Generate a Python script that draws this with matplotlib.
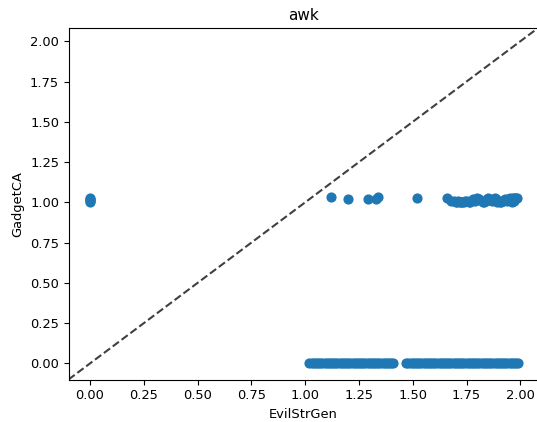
import matplotlib
matplotlib.use("Agg")
import matplotlib.pyplot as plt

# --- data ---
zero_x = [0.0, 0.0, 0.0, 0.0, 0.0]
zero_y = [1.00, 1.01, 1.02, 1.03, 1.015]

sparse_x = [1.12, 1.20, 1.29, 1.33, 1.34, 1.52]
sparse_y = [1.035, 1.02, 1.02, 1.02, 1.035, 1.025]

dense_x = [1.66, 1.68, 1.69, 1.70, 1.705, 1.71, 1.72, 1.725, 1.73, 1.74, 1.745, 1.75,
           1.76, 1.765, 1.77, 1.78, 1.785, 1.79, 1.80, 1.805, 1.81, 1.82, 1.825, 1.83,
           1.84, 1.845, 1.85, 1.86, 1.865, 1.87, 1.88, 1.885, 1.89, 1.90, 1.905, 1.91,
           1.92, 1.925, 1.93, 1.94, 1.945, 1.95, 1.96, 1.965, 1.97, 1.98, 1.96, 1.97,
           1.975, 1.985]
dense_y = [1.03, 1.01, 1.01, 1.00, 1.005, 1.01, 1.00, 1.005, 1.00, 1.00, 1.01, 1.01,
           1.00, 1.005, 1.01, 1.02, 1.015, 1.01, 1.03, 1.02, 1.02, 1.01, 1.005, 1.00,
           1.01, 1.02, 1.03, 1.02, 1.015, 1.01, 1.03, 1.02, 1.00, 1.01, 1.005, 1.00,
           1.01, 1.015, 1.02, 1.01, 1.02, 1.03, 1.02, 1.025, 1.03, 1.03, 1.00, 1.01,
           1.02, 1.03]

bottom_x = [1.02, 1.03, 1.04, 1.05, 1.06, 1.07, 1.08, 1.09, 1.10, 1.11, 1.12, 1.13,
            1.14, 1.15, 1.16, 1.17, 1.18, 1.19, 1.20, 1.21, 1.22, 1.23, 1.24, 1.25,
            1.26, 1.27, 1.28, 1.29, 1.30, 1.31, 1.32, 1.33, 1.34, 1.35, 1.36, 1.37,
            1.38, 1.39, 1.40, 1.41,
            1.47, 1.48, 1.49, 1.50, 1.51, 1.52, 1.53, 1.54, 1.55, 1.56, 1.57, 1.58,
            1.59, 1.60, 1.61, 1.62, 1.63, 1.64, 1.65, 1.66, 1.67, 1.68, 1.69, 1.70,
            1.71, 1.72, 1.73, 1.74, 1.75, 1.76, 1.77, 1.78, 1.79, 1.80, 1.81, 1.82,
            1.83, 1.84, 1.85, 1.86, 1.87, 1.88, 1.89, 1.90, 1.91, 1.92, 1.93, 1.94,
            1.95, 1.96, 1.97, 1.98, 1.99]
bottom_y = [0.0, 0.002, 0.0, 0.001, 0.0, 0.002, 0.0, 0.001, 0.0, 0.002, 0.0, 0.001,
            0.0, 0.002, 0.0, 0.001, 0.0, 0.002, 0.0, 0.001, 0.0, 0.002, 0.0, 0.001,
            0.0, 0.002, 0.0, 0.001, 0.0, 0.002, 0.0, 0.001, 0.0, 0.002, 0.0, 0.001,
            0.0, 0.002, 0.0, 0.001,
            0.0, 0.001, 0.0, 0.002, 0.0, 0.001, 0.0, 0.002, 0.0, 0.001, 0.0, 0.002,
            0.0, 0.001, 0.0, 0.002, 0.0, 0.001, 0.0, 0.002, 0.0, 0.001, 0.0, 0.002,
            0.0, 0.001, 0.0, 0.002, 0.0, 0.001, 0.0, 0.002, 0.0, 0.001, 0.0, 0.002,
            0.0, 0.001, 0.0, 0.002, 0.0, 0.001, 0.0, 0.002, 0.0, 0.001, 0.0, 0.002,
            0.0, 0.001, 0.0, 0.002, 0.0]

xs = zero_x + sparse_x + dense_x + bottom_x
ys = zero_y + sparse_y + dense_y + bottom_y

lims = [-0.1, 2.08]
xticks = [0.0, 0.25, 0.5, 0.75, 1.0, 1.25, 1.5, 1.75, 2.0]
yticks = [0.0, 0.25, 0.5, 0.75, 1.0, 1.25, 1.5, 1.75, 2.0]

fs = 9.4
fig = plt.figure(figsize=(5.37, 4.22), dpi=100)
ax = fig.add_axes([0.1276, 0.1007, 0.8734, 0.832])
ax.scatter(xs, ys, s=40, color="#1f77b4", zorder=2)
ax.plot(lims, lims, "k--", alpha=0.75, zorder=1, lw=1.5)
ax.set_xlim(lims)
ax.set_ylim(lims)
ax.set_xticks(xticks)
ax.set_yticks(yticks)
ax.tick_params(labelsize=fs, length=3.3)
ax.set_xlabel("EvilStrGen", fontsize=fs)
ax.set_ylabel("GadgetCA", fontsize=fs)
ax.set_title("awk", fontsize=11)
fig.savefig("out.png", dpi=100)
